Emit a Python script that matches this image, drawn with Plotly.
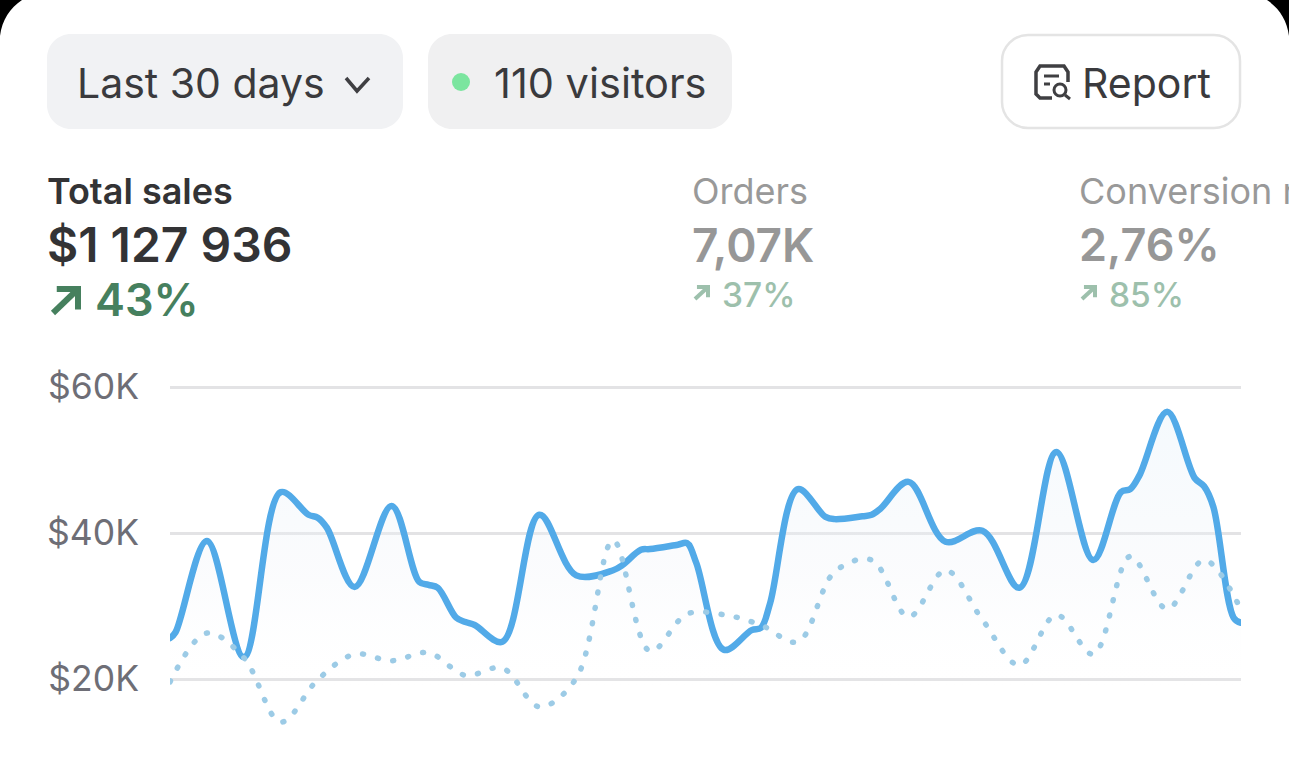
import plotly.graph_objects as go

W = 1289
H = 765

days = list(range(1, 31))
sales_days = [1, 1.15, 2, 3, 4, 4.75, 5, 5.25, 6, 7, 7.75, 8, 8.25, 8.75, 9, 9.25, 10, 11, 12, 13, 13.25,
              13.75, 14, 14.75, 15, 15.25, 16, 16.75, 17, 17.25, 18, 18.75, 19, 19.75, 20, 20.25,
              21, 22, 23, 24, 25, 26, 26.75, 27, 27.25, 28, 28.75, 29, 29.25, 29.8, 30]
sales = [25600, 26400, 38900, 23000, 45600, 42500, 42100, 40700, 32600, 43700, 33300, 32900, 32500,
         28400, 27800, 27400, 25100, 42500, 34200, 34900, 35600, 37700, 37800, 38400, 38600, 35900,
         24000, 26700, 27000, 30400, 46000, 42200, 41900, 42300, 42500, 43400, 47000, 38800, 40300,
         32500, 51100, 36300, 45600, 46000, 47900, 56600, 47500, 46400, 43600, 28400, 27700]
previous = [19600, 26300, 22900, 14100, 19900, 23400, 22500, 23600, 20500, 21500,
            16200, 20100, 39000, 23800, 28900, 28800, 27400, 25100, 34700, 36300,
            28500, 34900, 28100, 21900, 28800, 23400, 36800, 29600, 36300, 29500]
tick_vals = [20000, 40000, 60000]
tick_text = ["$20K", "$40K", "$60K"]

BLUE = "#52aae8"
DOTS = "#9ccbe6"
FONT = "Inter"


def px(x):
    return x / W


def py(y):
    return 1 - y / H


def pt(x, y):
    return f"{px(x):.5f},{py(y):.5f}"


def rounded(x0, y0, x1, y1, r):
    # bezier corners, everything in page pixels
    k = r * 0.45
    return (f"M{pt(x0 + r, y0)} L{pt(x1 - r, y0)} C{pt(x1 - k, y0)} {pt(x1, y0 + k)} {pt(x1, y0 + r)} "
            f"L{pt(x1, y1 - r)} C{pt(x1, y1 - k)} {pt(x1 - k, y1)} {pt(x1 - r, y1)} "
            f"L{pt(x0 + r, y1)} C{pt(x0 + k, y1)} {pt(x0, y1 - k)} {pt(x0, y1 - r)} "
            f"L{pt(x0, y0 + r)} C{pt(x0, y0 + k)} {pt(x0 + k, y0)} {pt(x0 + r, y0)} Z")


def box(fig, x0, y0, x1, y1, r, fill, line=None, width=0):
    fig.add_shape(type="path", xref="paper", yref="paper", path=rounded(x0, y0, x1, y1, r),
                  fillcolor=fill, line=dict(color=line or fill, width=width), layer="below")


def stroke(fig, points, color, width):
    path = "M" + " L".join(pt(x, y) for x, y in points)
    fig.add_shape(type="path", xref="paper", yref="paper", path=path,
                  line=dict(color=color, width=width))


def label(fig, x, y, text, size, color, weight=400):
    # annotations sit about 2px right of the given x
    fig.add_annotation(xref="paper", yref="paper", x=px(x - 2), y=py(y), text=text, showarrow=False,
                       xanchor="left", yanchor="middle", borderpad=0,
                       font=dict(family=FONT, size=size, color=color, weight=weight))


def arrow(fig, x0, y0, x1, y1, color, width):
    stroke(fig, [(x0, y1), (x1, y0)], color, width)
    stroke(fig, [(x0 + (x1 - x0) * 0.15, y0), (x1, y0), (x1, y1 - (y1 - y0) * 0.15)], color, width)


fig = go.Figure()

fig.add_trace(go.Scatter(
    x=sales_days, y=sales, mode="lines", cliponaxis=False, hoverinfo="skip",
    line=dict(color=BLUE, width=6.5, shape="spline", smoothing=1.0),
    fill="tozeroy",
    fillgradient=dict(type="vertical", colorscale=[[0, "rgba(255,255,255,0)"], [0.31, "rgba(255,255,255,0)"],
                                                   [0.6, "rgba(240,243,248,0.28)"], [1, "rgba(232,243,251,0.45)"]]),
))
fig.add_trace(go.Scatter(
    x=days, y=previous, mode="lines", cliponaxis=False, hoverinfo="skip",
    line=dict(color=DOTS, width=5.5, shape="spline", smoothing=1.0, dash="1px,14.5px"),
))

# top buttons
box(fig, 47, 34, 403, 129, 24, "#f1f2f4")
box(fig, 428, 34, 732, 129, 24, "#f0f0f1")
box(fig, 1002, 35, 1240, 128, 26, "#ffffff", "#e4e4e4", 2.5)
label(fig, 78, 83, "Last 30 days", 41, "#3a3a3d")
stroke(fig, [(346, 78), (357, 91), (369, 78)], "#3f3f42", 3.5)
fig.add_shape(type="circle", xref="paper", yref="paper", x0=px(452), x1=px(470), y0=py(91), y1=py(73),
              fillcolor="#7be59f", line=dict(width=0))
label(fig, 495, 83, "110 visitors", 41.5, "#3a3a3d")
label(fig, 1083, 83, "Report", 41, "#3a3a3d")

# report icon
stroke(fig, [(1052, 98), (1046, 98), (1040, 98), (1036, 94), (1036, 72), (1040, 66), (1064, 66), (1068, 72), (1068, 82)], "#3f3f42", 3.5)
stroke(fig, [(1044, 76), (1059, 76)], "#3f3f42", 3)
stroke(fig, [(1044, 84), (1050, 84)], "#3f3f42", 3)
fig.add_shape(type="circle", xref="paper", yref="paper", x0=px(1054), x1=px(1066), y0=py(96), y1=py(84),
              line=dict(color="#3f3f42", width=3))
stroke(fig, [(1065, 95), (1070, 99)], "#3f3f42", 3)

# stats
label(fig, 48, 191, "Total sales", 36, "#333335", 600)
label(fig, 48, 245, "$1\u00a0127\u00a0936", 48, "#333335", 600)
arrow(fig, 53, 289, 78, 313, "#46805e", 6)
label(fig, 96, 300, "43%", 45, "#46805e", 600)

label(fig, 693, 191, "Orders", 36, "#999999")
label(fig, 693, 245, "7,07K", 46, "#979797", 600)
arrow(fig, 695, 287, 708, 299, "#9dc0ac", 4)
label(fig, 723, 295, "37%", 33.5, "#9dc0ac", 500)

label(fig, 1080, 191, "Conversion rate", 36, "#999999")
label(fig, 1080, 245, "2,76%", 45, "#979797", 600)
arrow(fig, 1082, 287, 1095, 299, "#9dc0ac", 4)
label(fig, 1110, 295, "85%", 33.5, "#9dc0ac", 500)

# card corners
fig.add_shape(type="path", xref="paper", yref="paper", fillcolor="#000000", line=dict(width=0),
              path=f"M{pt(0, 0)} L{pt(22, 0)} C{pt(10, 8)} {pt(2, 20)} {pt(0, 36)} Z")
fig.add_shape(type="path", xref="paper", yref="paper", fillcolor="#000000", line=dict(width=0),
              path=f"M{pt(W, 0)} L{pt(W - 22, 0)} C{pt(W - 10, 8)} {pt(W - 2, 20)} {pt(W, 36)} Z")

fig.update_layout(
    width=W, height=H, showlegend=False,
    margin=dict(l=0, r=0, t=0, b=0),
    paper_bgcolor="#ffffff", plot_bgcolor="#ffffff",
    font=dict(family=FONT),
    xaxis=dict(visible=False, automargin=False, domain=[px(170), px(1241)], range=[1, 30]),
    # top of range sits above $60K so its gridline isn't dropped at the axis end
    yaxis=dict(automargin=False, domain=[py(737.4), py(372.4)], range=[12000, 62000], tickvals=tick_vals, ticktext=tick_text,
               showgrid=True, gridcolor="#e3e3e5", gridwidth=3, zeroline=False, showline=False,
               ticks="", ticklabelstandoff=30, tickfont=dict(family=FONT, size=35.5, color="#6e6e76")),
)

round_caps = """
document.body.style.margin = '0';
document.querySelectorAll('.js-line').forEach(function (l) { l.style.strokeLinecap = 'round'; });
"""
fig.write_html("out.html", post_script=round_caps, config=dict(displayModeBar=False))
